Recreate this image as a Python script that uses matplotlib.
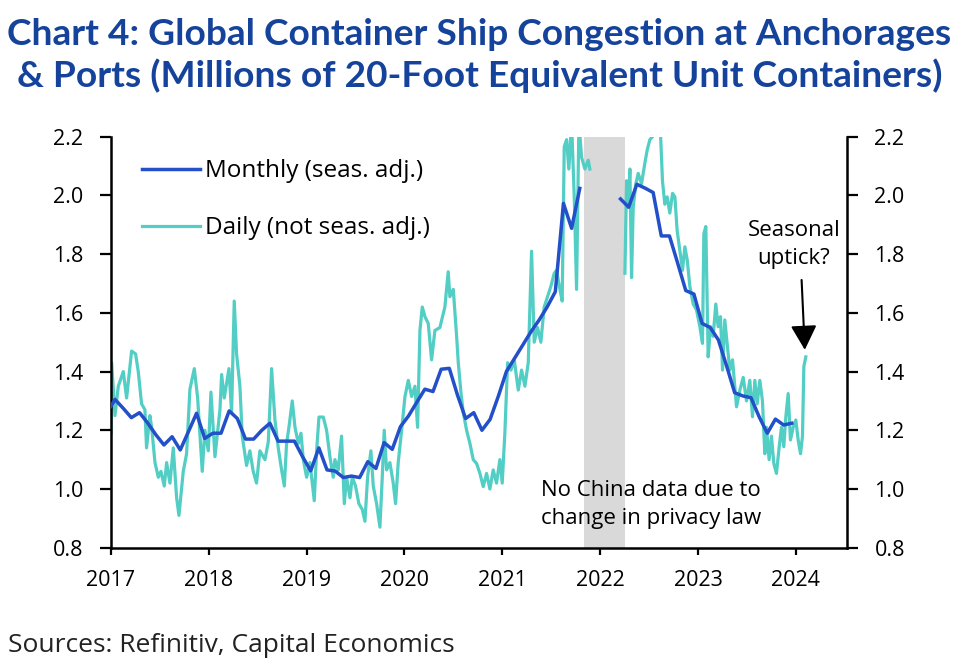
import matplotlib
matplotlib.use("Agg")
import matplotlib.pyplot as plt
import numpy as np

plt.rcParams['font.family'] = ['Open Sans', 'DejaVu Sans']

# monthly series (seas. adj.), Dec 2016 .. Dec 2023, mid-month points
monthly_start = 2016 + 11 / 12
monthly_vals = [
    1.26,
    1.305, 1.275, 1.243, 1.26, 1.225, 1.185, 1.15, 1.178, 1.133, 1.195, 1.258, 1.172,
    1.19, 1.19, 1.266, 1.24, 1.17, 1.17, 1.20, 1.224, 1.163, 1.163, 1.163, 1.11,
    1.062, 1.14, 1.065, 1.061, 1.039, 1.044, 1.039, 1.093, 1.07, 1.158, 1.135, 1.212,
    1.249, 1.295, 1.34, 1.332, 1.408, 1.411, 1.32, 1.24, 1.26, 1.20, 1.237, 1.315,
    1.40, 1.445, 1.49, 1.535, 1.575, 1.62, 1.672, 1.973, 1.888, 2.024, np.nan, np.nan,
    np.nan, np.nan, 1.988, 1.96, 2.038, 2.025, 2.01, 1.862, 1.862, 1.77, 1.676, 1.664,
    1.564, 1.55, 1.508, 1.42, 1.328, 1.317, 1.311, 1.246, 1.19, 1.238, 1.218, 1.224,
]

# daily series (not seas. adj.), decimal years; nan marks the missing stretch
daily_t = [
    2017.000, 2017.007, 2017.041, 2017.075, 2017.126, 2017.160, 2017.211, 2017.252,
    2017.279, 2017.313, 2017.347, 2017.364, 2017.398, 2017.416, 2017.450, 2017.484,
    2017.511, 2017.545, 2017.569, 2017.603, 2017.637, 2017.671, 2017.695, 2017.739,
    2017.773, 2017.807, 2017.852, 2017.886, 2017.933, 2017.960, 2017.995, 2018.022,
    2018.063, 2018.114, 2018.131, 2018.158, 2018.206, 2018.233, 2018.260, 2018.284,
    2018.318, 2018.342, 2018.386, 2018.420, 2018.454, 2018.488, 2018.522, 2018.574,
    2018.608, 2018.642,
    2018.676, 2018.710, 2018.744, 2018.772, 2018.795, 2018.819, 2018.853, 2018.881,
    2018.915, 2018.942, 2018.966, 2019.000, 2019.034, 2019.078, 2019.102, 2019.126,
    2019.170, 2019.204, 2019.238, 2019.272, 2019.289, 2019.323, 2019.357, 2019.385,
    2019.408, 2019.443, 2019.466, 2019.500, 2019.534, 2019.569, 2019.596, 2019.623,
    2019.657, 2019.681, 2019.715, 2019.749, 2019.773, 2019.793, 2019.817, 2019.851,
    2019.885, 2019.909, 2019.936, 2019.971, 2020.005, 2020.039, 2020.073, 2020.107,
    2020.134, 2020.158, 2020.182,
    2020.209, 2020.243, 2020.277, 2020.311, 2020.362, 2020.413, 2020.447, 2020.464,
    2020.499, 2020.533, 2020.550, 2020.577, 2020.601, 2020.635, 2020.669, 2020.703,
    2020.737, 2020.771, 2020.805, 2020.839, 2020.873, 2020.907, 2020.941, 2020.975,
    2020.999, 2021.026, 2021.054, 2021.088, 2021.122, 2021.163, 2021.197, 2021.231,
    2021.265, 2021.299, 2021.326, 2021.360, 2021.394, 2021.428, 2021.462, 2021.496,
    2021.531, 2021.554, 2021.589, 2021.612, 2021.633, 2021.657, 2021.680, 2021.708,
    2021.735, 2021.759, 2021.783, 2021.810, 2021.844, 2021.878, 2021.895,
    2022.000,
    2022.253, 2022.270, 2022.287, 2022.304, 2022.321, 2022.338, 2022.365, 2022.389,
    2022.423, 2022.457, 2022.481, 2022.508, 2022.535, 2022.559, 2022.593, 2022.617,
    2022.637, 2022.661, 2022.685, 2022.712, 2022.740, 2022.764, 2022.787, 2022.815,
    2022.842, 2022.866, 2022.890, 2022.917, 2022.951, 2022.985, 2023.019, 2023.046,
    2023.060, 2023.080, 2023.104, 2023.128, 2023.155, 2023.182, 2023.206, 2023.230,
    2023.251, 2023.274, 2023.298, 2023.325, 2023.353,
    2023.394, 2023.428, 2023.462, 2023.496, 2023.530, 2023.557, 2023.581, 2023.605,
    2023.632, 2023.659, 2023.683, 2023.700, 2023.727, 2023.751, 2023.775, 2023.802,
    2023.830, 2023.853, 2023.877, 2023.898, 2023.922, 2023.945, 2023.973, 2024.000,
    2024.024, 2024.048, 2024.068, 2024.082, 2024.102,
]
daily_v = [
    1.19, 1.43, 1.25, 1.35, 1.40, 1.31, 1.47, 1.46,
    1.40, 1.29, 1.27, 1.14, 1.25, 1.21, 1.09, 1.04,
    1.06, 1.01, 1.09, 1.02, 1.14, 0.97, 0.91, 1.06,
    1.12, 1.34, 1.41, 1.31, 1.06, 1.20, 1.13, 1.33,
    1.11, 1.27, 1.39, 1.31, 1.41, 1.26, 1.64, 1.46,
    1.35, 1.18, 1.08, 1.13, 1.06, 1.02, 1.13, 1.10,
    1.16, 1.41,
    1.235, 1.14, 1.065, 1.01, 1.155, 1.21, 1.30, 1.21,
    1.155, 1.19, 1.10, 1.04, 1.09, 0.96, 1.13, 1.245,
    1.245, 1.20, 1.11, 1.04, 1.10, 1.065, 1.18, 0.95,
    1.04, 0.97, 1.04, 1.01, 0.95, 0.93, 0.89, 1.04,
    1.13, 1.01, 0.95, 0.87, 1.04, 1.20, 1.065, 1.09,
    1.02, 0.95, 1.09, 1.20, 1.315, 1.37, 1.315, 1.35,
    1.21, 1.54, 1.62,
    1.587, 1.564, 1.44, 1.54, 1.55, 1.62, 1.74, 1.655,
    1.68, 1.52, 1.43, 1.33, 1.26, 1.20, 1.155, 1.10,
    1.087, 1.053, 1.008, 1.053, 1.00, 1.065, 1.02, 1.10,
    1.02, 1.19, 1.43, 1.405, 1.44, 1.337, 1.405, 1.35,
    1.43, 1.81, 1.50, 1.55, 1.50, 1.62, 1.655, 1.69,
    1.735, 1.745, 1.68, 1.64, 2.166, 2.19, 2.09, 2.25,
    1.996, 1.68, 2.25, 2.13, 2.09, 2.12, 2.09,
    np.nan,
    1.735, 2.05, 1.96, 2.09, 1.72, 1.96, 2.04, 2.075,
    2.04, 2.11, 2.155, 2.19, 2.20, 2.25, 2.25, 2.21,
    2.05, 1.97, 1.995, 1.94, 2.007, 1.995, 1.88, 1.81,
    1.745, 1.825, 1.78, 1.69, 1.63, 1.61, 1.553, 1.496,
    1.87, 1.894, 1.45, 1.553, 1.52, 1.63, 1.553, 1.587,
    1.405, 1.576, 1.496, 1.405, 1.44,
    1.28, 1.337, 1.38, 1.30, 1.37, 1.246, 1.37, 1.29,
    1.37, 1.30, 1.12, 1.21, 1.10, 1.18, 1.087, 1.053,
    1.144, 1.21, 1.144, 1.246, 1.325, 1.167, 1.21, 1.235,
    1.167, 1.12, 1.18, 1.417, 1.45,
]

# period with no China data
gap_start, gap_end = 2021.837, 2022.253

years = [2017, 2018, 2019, 2020, 2021, 2022, 2023, 2024]
yticks = [0.8, 1.0, 1.2, 1.4, 1.6, 1.8, 2.0, 2.2]

monthly_t = monthly_start + 1 / 24 + np.arange(len(monthly_vals)) / 12

fig = plt.figure(figsize=(9.59, 6.65), dpi=100)
ax = fig.add_axes([0.1157, 0.1764, 0.7672, 0.618])

ax.axvspan(gap_start, gap_end, color='#D9D9D9', lw=0, zorder=0)
ax.plot(daily_t, daily_v, color='#52CEC4', lw=2.3, label='Daily (not seas. adj.)', zorder=2)
ax.plot(monthly_t, monthly_vals, color='#2350C8', lw=2.5, label='Monthly (seas. adj.)', zorder=3)

ax.set_xlim(2017.0, 2024.52)
ax.set_ylim(0.8, 2.2)
ax.set_xticks(years)
ax.set_xticklabels([str(y) for y in years])
ax.set_yticks(yticks)
ax.set_yticklabels([f'{v:.1f}' for v in yticks])

for s in ['left', 'right', 'bottom']:
    ax.spines[s].set_linewidth(1.8)
ax.spines['top'].set_visible(False)
ax.tick_params(axis='y', which='both', left=True, right=True, labelleft=True, labelright=True,
               direction='out', length=8, width=1.6, pad=12, labelsize=15.5)
ax.tick_params(axis='x', direction='out', length=5, width=1.6, pad=11, labelsize=15.5)

# legend: monthly first
h, l = ax.get_legend_handles_labels()
ax.legend(h[::-1], l[::-1], loc='upper left', bbox_to_anchor=(0.042, 0.945), frameon=False,
          fontsize=17.5, handlelength=2.4, handletextpad=0.2, labelspacing=1.35,
          borderpad=0, borderaxespad=0)

ax.text(2021.394, 1.03, 'No China data due to\nchange in privacy law', fontsize=16,
        ha='left', va='top', linespacing=1.45)
ax.text(2023.98, 1.915, 'Seasonal\nuptick?', fontsize=16, ha='center', va='top', linespacing=1.4)
ax.annotate('', xy=(2024.092, 1.474), xytext=(2024.059, 1.712),
            arrowprops=dict(arrowstyle='-|>,head_length=0.75,head_width=0.4',
                            color='black', lw=1.5, mutation_scale=20, shrinkA=0, shrinkB=0))

title_color = '#15439B'
fig.text(0.5, 1 - 45 / 665, 'Chart 4: Global Container Ship Congestion at Anchorages',
         ha='center', va='baseline', fontsize=26.7, fontweight='bold', color=title_color,
         family=['Lato', 'DejaVu Sans'])
fig.text(0.5, 1 - 87 / 665, '& Ports (Millions of 20-Foot Equivalent Unit Containers)',
         ha='center', va='baseline', fontsize=26.7, fontweight='bold', color=title_color,
         family=['Lato', 'DejaVu Sans'])

fig.text(0.008, 1 - 652 / 665, 'Sources: Refinitiv, Capital Economics', ha='left',
         va='baseline', fontsize=19, color='#222222')

fig.savefig('out.png', dpi=100)
